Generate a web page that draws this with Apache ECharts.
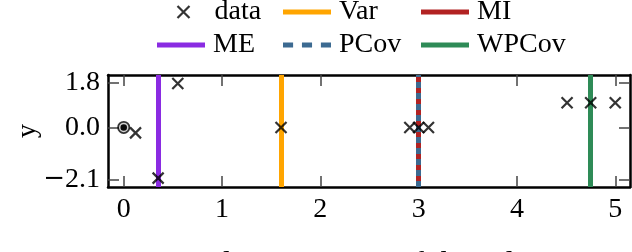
<!DOCTYPE html>
<html>
<head>
<meta charset="utf-8">
<script src="https://cdn.jsdelivr.net/npm/echarts@6/dist/echarts.min.js"></script>
<style>
html,body{margin:0;padding:0;background:#fff;}
#chart{width:632px;height:252px;}
</style>
</head>
<body>
<div id="chart"></div>
<script>
// ---- data ----
const xTicks = [0, 1, 2, 3, 4, 5];
const yTicks = [-2.1, 0.0, 1.8];
const dataX = [0.12, 0.35, 0.55, 1.6, 2.91, 3.0, 3.1, 4.51, 4.75, 5.0];
const dataY = [-0.22, -2.05, 1.78, 0.0, 0.0, 0.0, 0.0, 1.0, 1.0, 1.0];
const originX = [0.0];
const originY = [0.0];
const methodNames = ['Var', 'MI', 'ME', 'PCov', 'WPCov'];
const methodX = [1.6, 3.0, 0.35, 3.0, 4.75];
const captionText = 'Figure 1: A visual comparison of the selection strategies.';

// ---- styles ----
const FONT = 'Liberation Serif';
const FS = 28;
const methodColors = { Var: '#ffa500', MI: '#b22222', ME: '#8a2be2', PCov: '#3c6a91', WPCov: '#2e8b57' };
const methodDash = { Var: 'solid', MI: 'solid', ME: 'solid', PCov: [6, 5], WPCov: 'solid' };
const crossPath = 'path://M0,0L10,10M10,0L0,10';
const dashIcon = 'path://M0,0h8v5h-8zM15,0h8v5h-8zM30,0h8v5h-8z';
const xMin = -0.16, xMax = 5.15, yMin = -2.41, yMax = 2.12;

const fmtY = v => (v < 0 ? '{m|\u2212}' : '') + Math.abs(v).toFixed(1);

const frame = { show: true, onZero: false, lineStyle: { color: '#000', width: 2.5 } };
const tick = (vals) => ({ show: true, inside: true, length: 11, customValues: vals, lineStyle: { color: '#444', width: 1.5 } });

const series = [];
methodNames.forEach((name, i) => {
  series.push({
    name: name, type: 'line', data: [], symbol: 'none',
    lineStyle: { color: methodColors[name], width: 5, type: methodDash[name] },
    itemStyle: { color: methodColors[name] },
    z: 2 + i,
    markLine: {
      silent: true, symbol: 'none', animation: false,
      label: { show: false },
      lineStyle: { color: methodColors[name], width: 5, type: methodDash[name] },
      data: [{ xAxis: methodX[i] }]
    }
  });
});
series.push({
  name: 'origin-outer', type: 'scatter', symbol: 'circle', symbolSize: 13,
  itemStyle: { color: '#000' }, z: 20,
  data: originX.map((x, i) => [x, originY[i]])
});
series.push({
  name: 'origin-inner', type: 'scatter', symbol: 'circle', symbolSize: 8,
  itemStyle: { color: '#000', borderColor: '#fff', borderWidth: 1.5 }, z: 21,
  data: originX.map((x, i) => [x, originY[i]])
});
series.push({
  name: 'data', type: 'scatter', symbol: crossPath, symbolSize: 11,
  itemStyle: { color: 'none', borderColor: '#000', borderWidth: 2.2 }, z: 30,
  data: dataX.map((x, i) => [x, dataY[i]])
});

function leg(name, left, top) {
  let item, w = 48, h = 5, pad = 3;
  if (name === 'data') {
    item = { name: name, icon: crossPath, itemStyle: { color: 'none', borderColor: '#000', borderWidth: 2.2 } };
    w = 12; h = 12; pad = 20;
  } else if (name === 'PCov') {
    item = { name: name, icon: dashIcon, itemStyle: { color: methodColors[name], borderWidth: 0 } };
  } else {
    item = { name: name, icon: 'rect', itemStyle: { color: methodColors[name], borderWidth: 0 } };
  }
  return {
    data: [item], left: left, top: top, padding: 0,
    itemWidth: w, itemHeight: h, symbolKeepAspect: false,
    orient: 'horizontal', selectedMode: false,
    textStyle: { fontFamily: FONT, fontSize: FS, color: '#000', lineHeight: FS, padding: [0, 0, 0, pad] }
  };
}

const option = {
  animation: false,
  backgroundColor: '#fff',
  textStyle: { fontFamily: FONT },
  grid: { left: 108, right: 2, top: 75, bottom: 65, containLabel: false, outerBoundsMode: 'none' },
  legend: [
    leg('data', 175, -2), leg('Var', 283, -2), leg('MI', 421, -2),
    leg('ME', 157, 31), leg('PCov', 283, 31), leg('WPCov', 421, 31)
  ],
  xAxis: [
    { type: 'value', position: 'bottom', min: xMin, max: xMax,
      axisLine: frame, axisTick: tick(xTicks), splitLine: { show: false },
      axisLabel: { show: true, customValues: xTicks, margin: 9, fontFamily: FONT, fontSize: FS, color: '#000', formatter: v => String(Math.round(v)) } },
    { type: 'value', position: 'top', min: xMin, max: xMax,
      axisLine: frame, axisTick: tick(xTicks), splitLine: { show: false }, axisLabel: { show: false } }
  ],
  yAxis: [
    { type: 'value', position: 'left', min: yMin, max: yMax,
      name: 'y', nameLocation: 'middle', nameGap: 66, nameRotate: 90, nameMoveOverlap: false,
      nameTextStyle: { fontFamily: FONT, fontSize: FS, color: '#000' },
      axisLine: frame, axisTick: tick(yTicks), splitLine: { show: false },
      axisLabel: { show: true, customValues: yTicks, margin: 8, fontFamily: FONT, fontSize: FS, color: '#000', formatter: fmtY,
        rich: { m: { fontFamily: 'DejaVu Serif', fontSize: 26, color: '#000' } } } },
    { type: 'value', position: 'right', min: yMin, max: yMax,
      axisLine: frame, axisTick: tick(yTicks), splitLine: { show: false }, axisLabel: { show: false } }
  ],
  graphic: [{
    type: 'text', silent: true,
    x: 0, y: 265,
    style: { text: captionText, fontFamily: FONT, fontSize: 32, fill: '#000', verticalAlign: 'middle', align: 'left' }
  }],
  series: series
};

const chart = echarts.init(document.getElementById('chart'), null, { renderer: 'canvas' });
chart.setOption(option);
</script>
</body>
</html>
